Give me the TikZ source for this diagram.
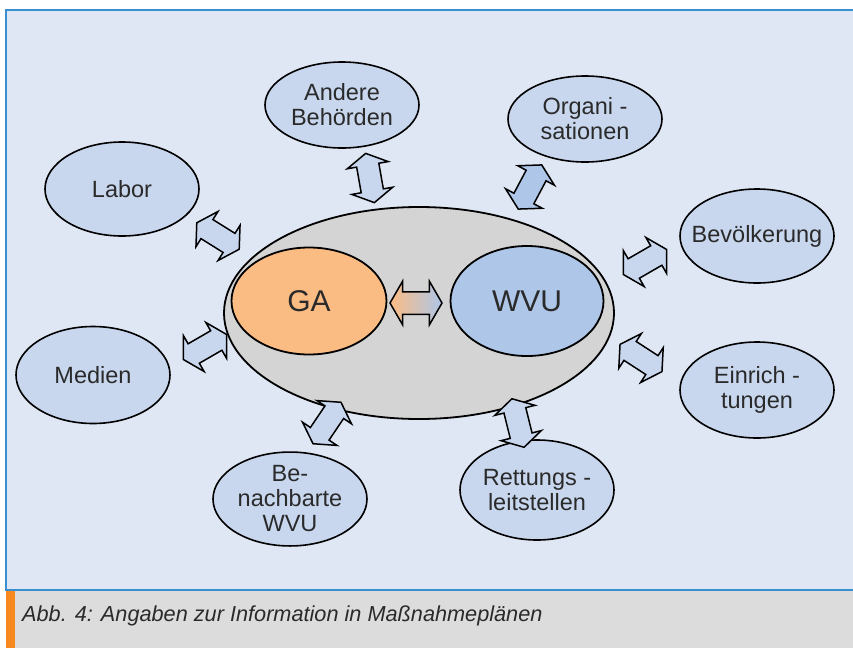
\documentclass[tikz,border=0pt]{standalone}
\usepackage{fontspec}
\setmainfont{Liberation Sans}
\usetikzlibrary{shapes.geometric,shapes.arrows}

\definecolor{panelbg}{HTML}{E0E7F4}
\definecolor{panelline}{HTML}{3A8FD2}
\definecolor{partnerfill}{HTML}{C8D7EE}
\definecolor{wvufill}{HTML}{AEC6E8}
\definecolor{gafill}{HTML}{FBBC84}
\definecolor{corefill}{HTML}{D4D4D4}
\definecolor{captionbg}{HTML}{DCDCDC}
\definecolor{captionbar}{HTML}{F7891E}
\definecolor{textgray}{HTML}{2A2A2A}

\tikzset{
  partner/.style={ellipse, draw=black, line width=1.6pt, fill=partnerfill,
    minimum width=154pt, minimum height=94pt, inner sep=0pt, align=center,
    font=\fontsize{23.5}{25}\selectfont, text=textgray},
  core/.style={ellipse, draw=black, line width=1.8pt, inner sep=0pt,
    font=\fontsize{30}{34}\selectfont, text=textgray},
  link/.style={double arrow, draw=black, line width=1.5pt, fill=partnerfill,
    minimum height=50pt, double arrow head extend=9.5pt,
    double arrow tip angle=120, inner sep=10.5pt},
}

\begin{document}
\begin{tikzpicture}[x=1pt,y=-1pt]
  \useasboundingbox (0,0) rectangle (853,648);
  \fill[white] (0,0) rectangle (853,648);

  % panel and caption
  \filldraw[fill=panelbg, draw=panelline, line width=1.8pt] (6,10) rectangle (870,590);
  \fill[captionbg] (6,591) rectangle (853,648);
  \fill[captionbar] (6,591) rectangle (15,648);
  \node[anchor=base west, inner sep=0pt, text=textgray,
    font=\fontsize{21.7}{25}\selectfont\itshape] (caption) at (22,621)
    {Abb. 4: Angaben zur Information in Maßnahmeplänen};

  % centre
  \node[core, fill=corefill, minimum width=390pt, minimum height=212pt] (kern) at (419,313) {};
  \node[core, fill=gafill, minimum width=155pt, minimum height=107pt] (ga) at (309,301) {GA};
  \node[core, fill=wvufill, minimum width=153pt, minimum height=110pt] (wvu) at (527,301) {WVU};
  \node[link, minimum height=52pt, double arrow head extend=10.5pt,
    left color=gafill, right color=wvufill] (mitte) at (416,303) {};

  % partners
  \node[partner, minimum height=86pt] (andere) at (342,105) {Andere\\Behörden};
  \node[partner, minimum height=86pt] (organi) at (585,119) {Organi -\\sationen};
  \node[partner] (labor) at (122,189) {Labor};
  \node[partner] (bevoelk) at (757,236) {\makebox[0pt]{Bevölkerung}};
  \node[partner, minimum height=97pt] (medien) at (93,375) {Medien};
  \node[partner, minimum height=96pt] (einricht) at (757,390) {Einrich -\\tungen};
  \node[partner, minimum height=88pt] (nachbar) at (290,499) {Be-\\nachbarte\\WVU};
  \node[partner, minimum height=100pt] (rettung) at (537,490) {Rettungs -\\leitstellen};

  % arrows
  \node[link, rotate=100] (pAndere) at (370,178) {};
  \node[link, rotate=62, fill=wvufill] (pOrgani) at (530,187) {};
  \node[link, rotate=-32] (pLabor) at (218,236) {};
  \node[link, rotate=30] (pBevoelk) at (645,262) {};
  \node[link, rotate=30] (pMedien) at (205,347) {};
  \node[link, rotate=-33] (pEinricht) at (641,358) {};
  \node[link, rotate=56] (pNachbar) at (327,423) {};
  \node[link, rotate=-76] (pRettung) at (518,423) {};
\end{tikzpicture}
\end{document}
